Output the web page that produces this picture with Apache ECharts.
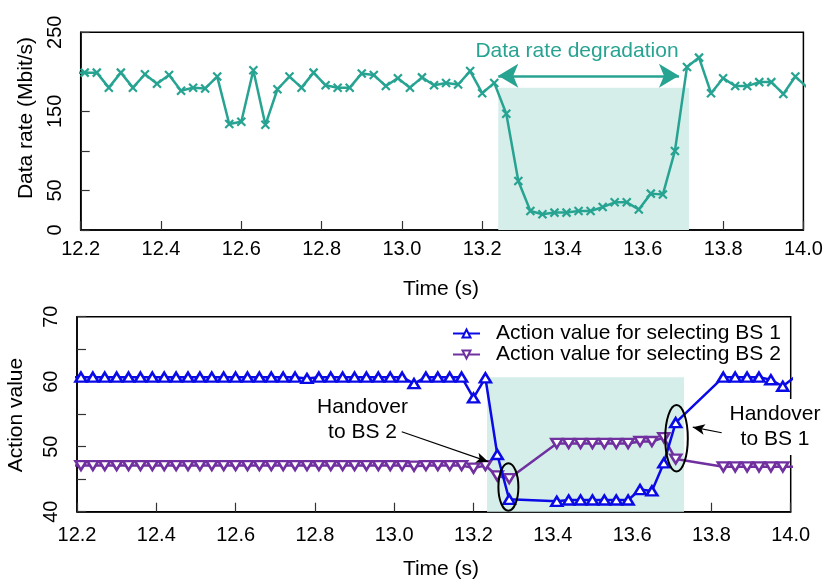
<!DOCTYPE html>
<html><head><meta charset="utf-8">
<script src="https://cdn.jsdelivr.net/npm/echarts@6/dist/echarts.min.js"></script>
<style>html,body{margin:0;padding:0;background:#fff}#c{width:827px;height:581px}</style>
</head><body><div id="c"></div>
<script>
// ---------- data ----------
const rateTime = [12.18,12.21,12.24,12.27,12.30,12.33,12.36,12.39,12.42,12.45,12.48,12.51,12.54,12.57,12.60,12.63,12.66,12.69,12.72,12.75,12.78,12.81,12.84,12.87,12.90,12.93,12.96,12.99,13.02,13.05,13.08,13.11,13.14,13.17,13.20,13.23,13.26,13.29,13.32,13.35,13.38,13.41,13.44,13.47,13.50,13.53,13.56,13.59,13.62,13.65,13.68,13.71,13.74,13.77,13.80,13.83,13.86,13.89,13.92,13.95,13.98,14.01];
const rateValue = [199,199,199,180,199,180,197,185,196,176,180,179,194,134,137,202,133,178,194,180,199,183,180,180,198,196,182,192,180,193,183,186,184,201,173,186,147,62,24,20,22,22,24,24,29,35,35,26,46,45,100,206,218,173,192,182,182,187,187,172,194,180];

const actTime = [12.18,12.21,12.24,12.27,12.30,12.33,12.36,12.39,12.42,12.45,12.48,12.51,12.54,12.57,12.60,12.63,12.66,12.69,12.72,12.75,12.78,12.81,12.84,12.87,12.90,12.93,12.96,12.99,13.02,13.05,13.08,13.11,13.14,13.17,13.20,13.23,13.26,13.29,
  13.41,13.44,13.47,13.50,13.53,13.56,13.59,13.62,13.65,13.68,13.71,
  13.83,13.86,13.89,13.92,13.95,13.98,14.01];
const bs1Value = [60.7,60.7,60.7,60.7,60.7,60.7,60.7,60.7,60.7,60.7,60.7,60.7,60.7,60.7,60.7,60.7,60.7,60.7,60.7,60.7,60.5,60.7,60.7,60.7,60.7,60.7,60.7,60.7,60.7,59.7,60.7,60.7,60.7,60.7,57.5,60.6,48.8,41.9,
  41.6,41.8,41.8,41.8,41.8,41.8,41.8,43.4,43.2,47.5,53.7,
  60.7,60.7,60.7,60.7,60.3,59.3,60.7];
const bs2Value = [47.1,47.1,47.1,47.1,47.1,47.1,47.1,47.1,47.1,47.1,47.1,47.1,47.1,47.1,47.1,47.1,47.1,47.1,47.1,47.1,47.1,47.1,47.1,47.1,47.1,47.1,47.1,47.1,47.1,47.0,47.1,47.1,47.1,47.1,46.7,47.1,45.5,45.1,
  50.5,50.5,50.5,50.5,50.5,50.5,50.5,50.8,50.8,51.4,48.1,
  46.9,46.9,46.9,46.9,46.9,46.9,46.9];

const seriesNames = ['Action value for selecting BS 1','Action value for selecting BS 2'];
const xTickLabels = ['12.2','12.4','12.6','12.8','13.0','13.2','13.4','13.6','13.8','14.0'];
const rateTickLabels = ['0','50','150','250'];
const actTickLabels = ['40','50','60','70'];

// annotation anchors (data units)
const rateShade = [13.24, 13.715, 180];      // start, end, top value
const rateArrow = [13.24, 13.69, 195];       // start, end, value
const actShade = [13.234, 13.731, 60.7];
const handoverCircles = [[13.288, 43.8], [13.712, 51.3]];
const arrowBS2 = [[13.019, 52.3], [13.237, 47.7]];
const arrowBS1 = [[13.826, 52.15], [13.753, 53.0]];

// ---------- styles ----------
const FONT = 'Liberation Sans, Arial, Helvetica, sans-serif';
const TEAL = '#27a392', SHADE = '#d6eeea', BLUE = '#0a0ae6', PURPLE = '#7030a0';
const circleRadii = [[10, 23.7], [11.3, 33.3]];

const toPts = (xs, ys) => xs.map((x, i) => [x, ys[i]]);
const fmtX = v => { const s = v.toFixed(1); return xTickLabels.includes(s) ? s : ''; };

function xAxisCfg(grid, margin) {
  return {
    type: 'value', gridIndex: grid, min: 12.2, max: 14.0, interval: 0.2,
    axisLine: { show: true, onZero: false, lineStyle: { color: '#000', width: 1.5 } },
    axisTick: { show: true, inside: true, length: 9, lineStyle: { color: '#333', width: 1.2 } },
    axisLabel: { formatter: fmtX, color: '#000', fontSize: 20, fontFamily: FONT, margin: margin },
    splitLine: { show: false }
  };
}
function yAxisCfg(grid, min, max, interval, labels, margin) {
  return {
    type: 'value', gridIndex: grid, min: min, max: max, interval: interval,
    axisLine: { show: true, lineStyle: { color: '#000', width: 1.5 } },
    axisTick: { show: true, inside: true, length: 9, lineStyle: { color: '#333', width: 1.2 } },
    axisLabel: { rotate: 90, formatter: v => labels.includes(String(v)) ? String(v) : '',
      color: '#000', fontSize: 20, fontFamily: FONT, margin: margin },
    splitLine: { show: false }
  };
}

const crossPath = 'path://M0,0L10,10M0,10L10,0';

const option = {
  animation: false,
  backgroundColor: '#fff',
  textStyle: { fontFamily: FONT },
  grid: [
    { left: 80.7, top: 32.3, right: 23.6, bottom: 351, show: true, borderColor: '#000', borderWidth: 1.5, backgroundColor: 'transparent' },
    { left: 77, top: 316.7, right: 36.3, bottom: 69.3, show: true, borderColor: '#000', borderWidth: 1.5, backgroundColor: 'transparent' }
  ],
  xAxis: [xAxisCfg(0, 9), xAxisCfg(1, 14)],
  yAxis: [yAxisCfg(0, 0, 250, 50, rateTickLabels, 15), yAxisCfg(1, 40, 70, 5, actTickLabels, 16)],
  legend: {
    data: seriesNames, orient: 'vertical', left: 452, top: 323, padding: 0, itemGap: 0,
    itemWidth: 27, itemHeight: 10,
    textStyle: { fontSize: 21, fontFamily: FONT, color: '#000', lineHeight: 20, padding: [0, 0, 0, 11] }
  },
  series: [
    {
      type: 'line', xAxisIndex: 0, yAxisIndex: 0, data: toPts(rateTime, rateValue),
      symbol: crossPath, symbolSize: 8, showAllSymbol: true, clip: true,
      lineStyle: { color: TEAL, width: 2.5 },
      itemStyle: { color: TEAL, borderColor: TEAL, borderWidth: 2.2 },
      z: 5,
      markArea: { silent: true, itemStyle: { color: SHADE }, z: 1,
        data: [[{ coord: [rateShade[0], 0] }, { coord: [rateShade[1], rateShade[2]] }]] },
      markLine: { silent: true, symbol: ['arrow', 'arrow'], symbolSize: [18, 20],
        lineStyle: { color: TEAL, width: 2.5, type: 'solid' }, label: { show: false },
        data: [[{ coord: [rateArrow[0], rateArrow[2]] }, { coord: [rateArrow[1], rateArrow[2]] }]] }
    },
    {
      name: seriesNames[0], type: 'line', xAxisIndex: 1, yAxisIndex: 1, data: toPts(actTime, bs1Value),
      symbol: 'triangle', symbolSize: [11, 9], showAllSymbol: true, clip: true,
      lineStyle: { color: BLUE, width: 2.5 },
      itemStyle: { color: '#fff', borderColor: BLUE, borderWidth: 2.5 },
      z: 5,
      markArea: { silent: true, itemStyle: { color: SHADE }, z: 1,
        data: [[{ coord: [actShade[0], 40] }, { coord: [actShade[1], actShade[2]] }]] }
    },
    {
      name: seriesNames[1], type: 'line', xAxisIndex: 1, yAxisIndex: 1, data: toPts(actTime, bs2Value),
      symbol: 'triangle', symbolRotate: 180, symbolSize: [11, 9], showAllSymbol: true, clip: true,
      lineStyle: { color: PURPLE, width: 2.5 },
      itemStyle: { color: '#fff', borderColor: PURPLE, borderWidth: 2.5 },
      z: 4,
      markLine: { silent: true, symbol: ['none', 'arrow'], symbolSize: [8, 12],
        lineStyle: { color: '#000', width: 1.2, type: 'solid' }, label: { show: false },
        data: [
          [{ coord: arrowBS2[0] }, { coord: arrowBS2[1] }],
          [{ coord: arrowBS1[0] }, { coord: arrowBS1[1] }]
        ] }
    },
    {
      type: 'custom', xAxisIndex: 1, yAxisIndex: 1, data: handoverCircles, z: 10, silent: true,
      renderItem: function (params, api) {
        const p = api.coord([api.value(0), api.value(1)]);
        const r = circleRadii[params.dataIndex];
        return {
          type: 'path',
          shape: { pathData: 'M0,50A50,50,0,1,1,100,50A50,50,0,1,1,0,50Z',
            x: p[0] - r[0], y: p[1] - r[1], width: 2 * r[0], height: 2 * r[1], layout: 'cover' },
          style: { fill: 'none', stroke: '#000', lineWidth: 2 }
        };
      }
    }
  ],
  graphic: [
    { type: 'text', x: 26, y: 118, rotation: Math.PI / 2,
      style: { text: 'Data rate (Mbit/s)', font: '21px ' + FONT, fill: '#000', align: 'center', verticalAlign: 'middle' } },
    { type: 'text', x: 16, y: 415, rotation: Math.PI / 2,
      style: { text: 'Action value', font: '21px ' + FONT, fill: '#000', align: 'center', verticalAlign: 'middle' } },
    { type: 'text', x: 441, y: 289,
      style: { text: 'Time (s)', font: '21px ' + FONT, fill: '#000', align: 'center', verticalAlign: 'middle' } },
    { type: 'text', x: 441, y: 569,
      style: { text: 'Time (s)', font: '21px ' + FONT, fill: '#000', align: 'center', verticalAlign: 'middle' } },
    { type: 'text', x: 577, y: 51,
      style: { text: 'Data rate degradation', font: '21px ' + FONT, fill: TEAL, align: 'center', verticalAlign: 'middle' } },
    { type: 'text', x: 362.5, y: 420, z: 20,
      style: { text: 'Handover\nto BS 2', font: '21px ' + FONT, lineHeight: 25, fill: '#000', align: 'center', verticalAlign: 'middle' } },
    { type: 'text', x: 775, y: 427, z: 20,
      style: { text: 'Handover\nto BS 1', font: '21px ' + FONT, lineHeight: 25, fill: '#000', align: 'center', verticalAlign: 'middle',
        backgroundColor: '#fff', padding: [3, 4, 3, 4] } }
  ]
};

const chart = echarts.init(document.getElementById('c'), null, { renderer: 'canvas' });
chart.setOption(option);
</script>
</body></html>
